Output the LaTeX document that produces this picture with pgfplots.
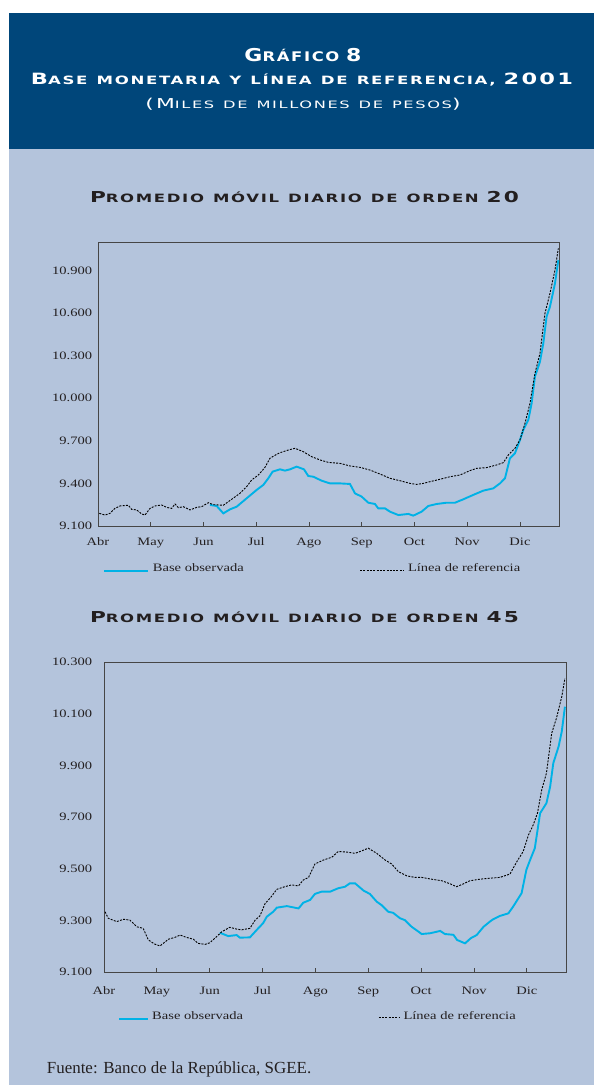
\documentclass[border=0pt]{standalone}
\usepackage{graphicx}
\usepackage{pgfplots}
\pgfplotsset{compat=1.18}
\usepackage{fontspec}
\setmainfont{Liberation Serif}
\newfontfamily\tickf{Liberation Serif}[FakeStretch=1.28]
\newfontfamily\footf{Liberation Serif}
\newfontfamily\tf{DejaVu Sans}[LetterSpace=10]
\definecolor{hdr}{RGB}{0,70,122}
\definecolor{pnl}{RGB}{180,196,220}
\definecolor{cyanline}{RGB}{0,178,230}
\definecolor{txt}{RGB}{35,31,32}
\definecolor{frame}{RGB}{70,70,70}
\newcommand\Ssize[1]{\fontsize{#1}{#1}\selectfont}
\newcommand\W{\hspace{0.55em}}
\pgfplotsset{
  basestyle/.style={
    scale only axis,
    anchor=south west,
    xmin=0, xmax=8.74,
    scaled y ticks=false,
    axis line style={draw=frame, line width=0.8bp},
    xtick={0,...,8},
    xticklabels={Abr,May,Jun,Jul,Ago,Sep,Oct,Nov,Dic},
    tick align=inside,
    xtick pos=bottom,
    xtick style={draw=frame, line width=0.8bp},
    major tick length=4bp,
    ytick style={draw=none},
    ticklabel style={font=\tickf\Ssize{11.4}, text=txt, inner sep=0pt},
    xticklabel style={anchor=base, yshift=-20bp},
    yticklabel style={anchor=east},
    legend columns=2,
    legend cell align=left,
  },
  refline/.style={draw=black, line width=0.9bp, dash pattern=on 2bp off 1.3bp},
  obsline/.style={draw=cyanline, line width=1.9bp},
}
\begin{document}
\begin{tikzpicture}
\path[use as bounding box] (0,0) rectangle (594bp,1085bp);
\fill[white] (0,0) rectangle (594bp,1085bp);
\fill[pnl] (9bp,0) rectangle (594bp,936bp);
\fill[hdr] (9bp,936bp) rectangle (594bp,1072.3bp);
% header titles
\node[anchor=base, inner sep=0pt, text=white] at (303bp,1023.7bp)
  {\resizebox{117bp}{\height}{\tf\bfseries{\Ssize{17.8}G}{\Ssize{13.3}RÁFICO}\W{\Ssize{17.8}8}}};
\node[anchor=base, inner sep=0pt, text=white] at (302bp,1000.3bp)
  {\resizebox{542bp}{\height}{\tf\bfseries{\Ssize{15.6}B}{\Ssize{11.5}ASE\W MONETARIA\W Y\W LÍNEA\W DE\W REFERENCIA,}\W{\Ssize{15.6}2001}}};
\node[anchor=base, inner sep=0pt, text=white] at (303bp,976bp)
  {\resizebox{315bp}{\height}{\tf{\Ssize{13.7}(M}{\Ssize{10.2}ILES\W DE\W MILLONES\W DE\W PESOS}{\Ssize{13.7})}}};
% chart titles
\node[anchor=base, inner sep=0pt, text=txt] at (304.5bp,882.3bp)
  {\resizebox{429bp}{\height}{\tf\bfseries{\Ssize{15.1}P}{\Ssize{11.5}ROMEDIO\W MÓVIL\W DIARIO\W DE\W ORDEN}\W{\Ssize{15.1}20}}};
\node[anchor=base, inner sep=0pt, text=txt] at (304.5bp,462.3bp)
  {\resizebox{429bp}{\height}{\tf\bfseries{\Ssize{15.1}P}{\Ssize{11.5}ROMEDIO\W MÓVIL\W DIARIO\W DE\W ORDEN}\W{\Ssize{15.1}45}}};
% footer
\node[anchor=base west, inner sep=0pt, text=txt, font=\footf\Ssize{17}] at (46.7bp,11.7bp)
  {Fuente: Banco de la República, SGEE.};

% ---------- Chart 1 ----------
\begin{axis}[basestyle,
  at={(98bp,559bp)}, width=461bp, height=284bp,
  ymin=9100, ymax=11100,
  ytick={9100,9400,9700,10000,10300,10600,10900},
  yticklabels={9.100,9.400,9.700,10.000,10.300,10.600,10.900},
  yticklabel style={xshift=-5.7bp},
  legend style={at={(0,0)}, anchor=north west, xshift=5.3bp, yshift=-37.7bp,
    draw=none, fill=none, inner sep=0pt, font=\tickf\Ssize{11.4}, text=txt,
    cells={anchor=base west}, nodes={inner sep=0pt},
    /tikz/every odd column/.append style={column sep=4bp},
    /tikz/every even column/.append style={column sep=116bp}},
]
\addplot[obsline, legend image code/.code={\draw[draw=cyanline, line width=2bp] (0bp,0.5bp) -- (43.4bp,0.5bp);}] table {
2.123 9248
2.25 9241
2.376 9189
2.502 9217
2.629 9236
2.818 9295
3.008 9354
3.134 9389
3.229 9436
3.311 9483
3.45 9499
3.545 9490
3.64 9499
3.766 9518
3.905 9499
3.987 9452
4.082 9447
4.24 9419
4.398 9400
4.588 9400
4.777 9396
4.872 9330
4.998 9307
5.125 9264
5.251 9255
5.314 9224
5.441 9224
5.535 9201
5.694 9177
5.883 9185
5.978 9173
6.136 9201
6.262 9241
6.42 9255
6.61 9264
6.768 9264
6.926 9288
7.115 9319
7.305 9349
7.494 9365
7.621 9400
7.716 9436
7.81 9577
7.905 9612
8.0 9706
8.063 9776
8.158 9847
8.221 9964
8.284 10152
8.379 10257
8.442 10386
8.505 10575
8.569 10645
8.664 10809
8.727 10973
};
\addlegendentry{Base observada}
\addplot[refline, legend image code/.code={\draw[draw=black, line width=0.9bp, dash pattern=on 2bp off 1.3bp] (0bp,1.5bp) -- (43.4bp,1.5bp);}] table {
0.025 9189
0.133 9177
0.227 9189
0.322 9224
0.417 9241
0.575 9246
0.638 9217
0.733 9213
0.828 9185
0.891 9177
0.986 9224
1.081 9241
1.207 9248
1.302 9231
1.397 9224
1.46 9255
1.523 9229
1.618 9236
1.744 9213
1.870 9231
1.965 9236
2.092 9264
2.186 9250
2.376 9246
2.534 9288
2.692 9330
2.818 9377
2.913 9424
3.04 9459
3.166 9513
3.261 9577
3.355 9598
3.45 9616
3.608 9635
3.735 9647
3.893 9623
4.051 9588
4.209 9565
4.367 9548
4.588 9541
4.777 9523
4.967 9513
5.156 9494
5.346 9466
5.535 9436
5.725 9419
5.915 9400
6.041 9393
6.167 9400
6.294 9412
6.483 9429
6.673 9447
6.863 9459
7.052 9490
7.178 9506
7.368 9511
7.558 9530
7.684 9546
7.779 9600
7.905 9647
8.0 9706
8.095 9823
8.19 9964
8.284 10175
8.379 10316
8.474 10598
8.569 10739
8.664 10903
8.727 11055
};
\addlegendentry{Línea de referencia}
\end{axis}

% ---------- Chart 2 ----------
\begin{axis}[basestyle,
  at={(104bp,112.7bp)}, width=462bp, height=310.3bp,
  ymin=9100, ymax=10300,
  ytick={9100,9300,9500,9700,9900,10100,10300},
  yticklabels={9.100,9.300,9.500,9.700,9.900,10.100,10.300},
  yticklabel style={xshift=-11.7bp},
  xticklabel style={yshift=-1.7bp},
  legend style={at={(0,0)}, anchor=north west, xshift=14.3bp, yshift=-38.6bp,
    draw=none, fill=none, inner sep=0pt, font=\tickf\Ssize{11.4}, text=txt,
    cells={anchor=base west}, nodes={inner sep=0pt},
    /tikz/every odd column/.append style={column sep=3.3bp},
    /tikz/every even column/.append style={column sep=135.3bp}},
]
\addplot[obsline, legend image code/.code={\draw[draw=cyanline, line width=2bp] (0bp,0.5bp) -- (28.4bp,0.5bp);}] table {
2.19 9253
2.35 9240
2.51 9244
2.57 9234
2.76 9235
2.89 9264
3.01 9290
3.08 9315
3.20 9334
3.27 9350
3.46 9356
3.68 9347
3.77 9369
3.90 9380
3.99 9403
4.12 9412
4.28 9412
4.43 9425
4.56 9431
4.65 9444
4.75 9444
4.91 9416
5.03 9403
5.16 9373
5.25 9360
5.38 9334
5.47 9330
5.60 9309
5.69 9302
5.82 9276
5.95 9257
6.01 9248
6.17 9251
6.36 9260
6.45 9248
6.61 9245
6.68 9225
6.83 9212
6.94 9232
7.05 9244
7.18 9276
7.30 9296
7.36 9305
7.49 9318
7.65 9328
7.74 9354
7.90 9406
7.99 9496
8.06 9534
8.15 9580
8.25 9715
8.37 9754
8.44 9818
8.50 9909
8.60 9973
8.66 10031
8.72 10127
};
\addlegendentry{Base observada}
\addplot[refline, legend image code/.code={\draw[draw=black, line width=0.9bp, dash pattern=on 2bp off 1.3bp] (0bp,1.5bp) -- (21bp,1.5bp);}] table {
0.02 9334
0.08 9309
0.24 9296
0.37 9305
0.49 9302
0.62 9276
0.74 9270
0.84 9225
0.96 9209
1.06 9202
1.22 9228
1.34 9235
1.44 9244
1.56 9235
1.69 9228
1.78 9212
1.91 9208
2.00 9214
2.13 9238
2.23 9257
2.38 9274
2.51 9267
2.60 9264
2.76 9270
2.86 9302
2.95 9318
3.05 9367
3.14 9386
3.27 9421
3.42 9431
3.55 9438
3.68 9434
3.77 9457
3.87 9467
3.99 9519
4.15 9534
4.31 9545
4.43 9567
4.59 9565
4.75 9560
4.88 9570
5.00 9580
5.16 9560
5.32 9534
5.44 9519
5.57 9489
5.73 9473
5.88 9467
6.01 9467
6.20 9460
6.39 9454
6.55 9442
6.67 9431
6.80 9442
6.92 9454
7.11 9460
7.30 9464
7.49 9467
7.68 9480
7.81 9528
7.93 9567
8.03 9631
8.12 9670
8.20 9715
8.28 9805
8.37 9870
8.47 10025
8.56 10083
8.66 10166
8.72 10237
};
\addlegendentry{Línea de referencia}
\end{axis}
\end{tikzpicture}
\end{document}
